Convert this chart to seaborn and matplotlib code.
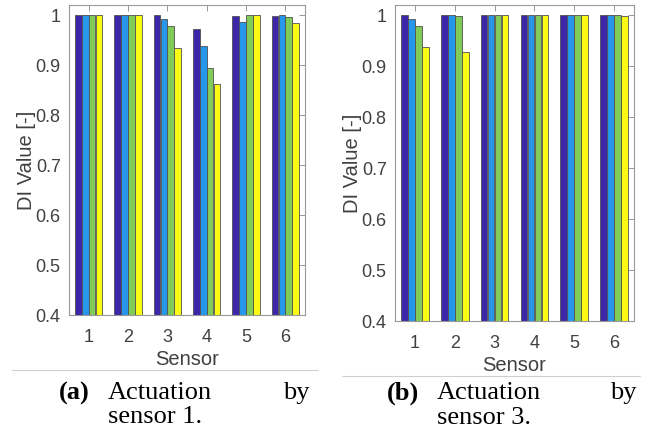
import matplotlib
matplotlib.use("Agg")
import matplotlib.pyplot as plt
import seaborn as sns
import pandas as pd
from matplotlib.lines import Line2D

sensors = ["1", "2", "3", "4", "5", "6"]
series_names = ["S1", "S2", "S3", "S4"]
colors = ["#3E26A8", "#2797EB", "#81CC59", "#F9FB15"]

# (a) Actuation by sensor 1
a_s1 = [1.000, 1.000, 1.000, 0.972, 0.997, 0.997]
a_s2 = [1.000, 1.000, 0.991, 0.939, 0.985, 1.000]
a_s3 = [1.000, 1.000, 0.978, 0.893, 1.000, 0.996]
a_s4 = [1.000, 1.000, 0.933, 0.862, 1.000, 0.984]

# (b) Actuation by sensor 3
b_s1 = [1.000, 1.000, 1.000, 1.000, 1.000, 1.000]
b_s2 = [0.992, 1.000, 1.000, 1.000, 1.000, 1.000]
b_s3 = [0.979, 0.999, 1.000, 1.000, 1.000, 1.000]
b_s4 = [0.938, 0.927, 1.000, 1.000, 1.000, 0.998]

yticks = [0.4, 0.5, 0.6, 0.7, 0.8, 0.9, 1.0]
yticklabels = ["0.4", "0.5", "0.6", "0.7", "0.8", "0.9", "1"]

def long_df(series):
    rows = []
    for name, vals in zip(series_names, series):
        for s, v in zip(sensors, vals):
            rows.append({"Sensor": s, "DI": v, "Series": name})
    return pd.DataFrame(rows)

sns.set_style("white")
plt.rcParams["font.family"] = ["Liberation Sans", "DejaVu Sans"]

W, H = 651, 434
fig = plt.figure(figsize=(W / 100, H / 100), dpi=100)

def px_axes(x0, x1, ytop, ybot):
    return fig.add_axes([x0 / W, 1 - ybot / H, (x1 - x0) / W, (ybot - ytop) / H])

ax_a = px_axes(69, 305, 5, 315)
ax_b = px_axes(395, 634, 5, 321)

tc = "#404040"
for ax, series in [(ax_a, [a_s1, a_s2, a_s3, a_s4]), (ax_b, [b_s1, b_s2, b_s3, b_s4])]:
    df = long_df(series)
    sns.barplot(data=df, x="Sensor", y="DI", hue="Series", palette=colors,
                saturation=1, width=0.7, gap=0.04, edgecolor="#505050", linewidth=0.6,
                legend=False, ax=ax)
    ax.set_xlim(-0.5, 5.5)
    ax.set_ylim(0.4, 1.02)
    ax.set_yticks(yticks)
    ax.set_yticklabels(yticklabels)
    ax.tick_params(axis="both", direction="in", length=4, width=0.6, color="#888888",
                   labelsize=13, labelcolor=tc, top=True, right=True, pad=6)
    ax.tick_params(axis="x", pad=10)
    ax.set_xlabel("Sensor", fontsize=14.5, color=tc, labelpad=3)
    ax.set_ylabel("DI Value [-]", fontsize=14.5, color=tc, labelpad=0)
    for sp in ax.spines.values():
        sp.set_visible(True)
        sp.set_color("#999999")
        sp.set_linewidth(0.8)

# separator lines
fig.add_artist(Line2D([12 / W, 318 / W], [1 - 370 / H, 1 - 370 / H], color="#d0d0d0", lw=0.8))
fig.add_artist(Line2D([342 / W, 640 / W], [1 - 376 / H, 1 - 376 / H], color="#d0d0d0", lw=0.8))

serif = ["Liberation Serif", "DejaVu Serif"]
cfs = 19
def ftext(x, y, s, ha="left", bold=False):
    fig.text(x / W, 1 - y / H, s, ha=ha, va="center", fontsize=cfs, family=serif,
             fontweight="bold" if bold else "normal", color="black")

ftext(90, 393, "(a)", ha="right", bold=True)
ftext(108, 393, "Actuation")
ftext(310, 393, "by", ha="right")
ftext(108, 417, "sensor 1.")

ftext(419, 393, "(b)", ha="right", bold=True)
ftext(437, 393, "Actuation")
ftext(637, 393, "by", ha="right")
ftext(437, 418, "sensor 3.")

fig.savefig("out.png", dpi=100)
